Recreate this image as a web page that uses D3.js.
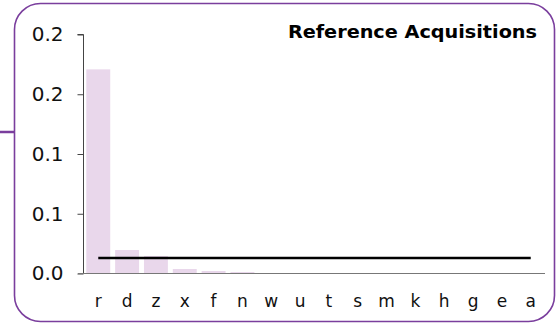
<!DOCTYPE html>
<html><head><meta charset="utf-8">
<script src="https://cdn.jsdelivr.net/npm/d3@7"></script>
<style>
html,body{margin:0;padding:0;background:#fff;}
svg{display:block;font-family:Verdana,"DejaVu Sans",sans-serif;}
</style></head>
<body>
<svg id="chart" width="557" height="326"></svg>
<script>
const categories = ["r","d","z","x","f","n","w","u","t","s","m","k","h","g","e","a"];
const values = [0.205,0.0236,0.0176,0.0045,0.0025,0.0015,0.0004,0.0002,0.0001,0.0001,0.0001,0,0,0,0,0];
const lineValues = [0.0156,0.0156,0.0156,0.0156,0.0156,0.0156,0.0156,0.0156,0.0156,0.0156,0.0156,0.0156,0.0156,0.0156,0.0156,0.0156];
const yTickValues = [0,0.06,0.12,0.18,0.24];
const yTickLabels = ["0.0","0.1","0.1","0.2","0.2"];
const title = "Reference Acquisitions";

(function(){
const svg = d3.select("#chart");
const mLeft = 84, mRight = 545, mTop = 34.5, mBottom = 273.5;
const ff = 'Verdana,"DejaVu Sans",sans-serif';

svg.append("line").attr("x1",0).attr("x2",15).attr("y1",132).attr("y2",132)
  .attr("stroke","#7a3e9d").attr("stroke-width",2.5);
svg.append("rect").attr("x",14.5).attr("y",3.5).attr("width",540).attr("height",318)
  .attr("rx",26).attr("ry",26).attr("fill","#fff").attr("stroke","#7a3e9d").attr("stroke-width",1.6);

const x = d3.scaleBand().domain(categories).range([mLeft,mRight]).paddingInner(0.17).paddingOuter(0.08);
const y = d3.scaleLinear().domain([0,0.24]).range([mBottom,mTop]);

svg.append("g").selectAll("rect").data(categories).join("rect")
  .attr("x",d=>x(d)).attr("width",x.bandwidth())
  .attr("y",(d,i)=>y(values[i])).attr("height",(d,i)=>mBottom-y(values[i]))
  .attr("fill","#e9d7eb");

const yAxis = svg.append("g").attr("transform",`translate(${mLeft-0.5},0)`)
  .call(d3.axisLeft(y).tickValues(yTickValues).tickFormat((d,i)=>yTickLabels[i]).tickSize(6).tickPadding(14));
yAxis.select(".domain").attr("stroke","#444").attr("d",`M-6,${mTop}H0V${mBottom}`);
yAxis.selectAll(".tick line").attr("stroke","#444");
yAxis.selectAll("text").attr("font-size",20).attr("fill","#111").attr("font-family",ff);

const xAxis = svg.append("g").attr("transform",`translate(0,${mBottom})`)
  .call(d3.axisBottom(x).tickSize(0).tickPadding(21.5));
xAxis.select(".domain").attr("stroke","#777").attr("d",`M${mLeft-6},0H${mRight}`);
xAxis.selectAll("text").attr("font-size",17).attr("fill","#111").attr("font-family",ff);

const line = d3.line().x((d,i)=>x(categories[i])+x.bandwidth()/2).y(d=>y(d));
svg.append("path").datum(lineValues).attr("d",line).attr("fill","none")
  .attr("stroke","#000").attr("stroke-width",2.5);

svg.append("g").attr("transform","translate(537,38.3) scale(1.1,1)")
  .append("text").attr("x",0).attr("y",0).attr("text-anchor","end")
  .attr("font-weight","bold").attr("font-size",17.5)
  .attr("fill","#000").text(title);
})();
</script>
</body></html>
